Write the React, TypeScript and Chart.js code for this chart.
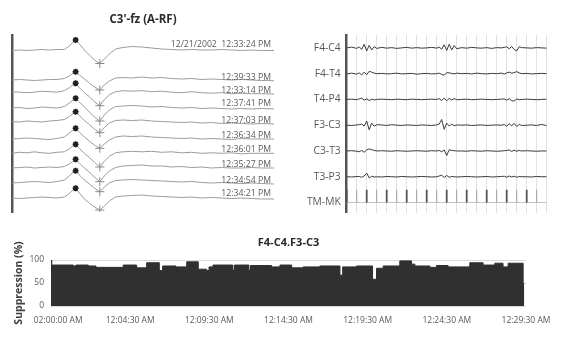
import React, { useEffect, useRef } from "react";
import { Chart, registerables } from "chart.js";

Chart.register(...registerables);

const FONT = "'Open Sans', 'Noto Sans', sans-serif";
const TEXT = "#595959";
Chart.defaults.font.family = FONT;
Chart.defaults.color = TEXT;

// ---------------- Panel A : averaged / single evoked traces ----------------
const ERP_TITLE = "C3'-fz (A-RF)";
const ERP_T = [0, 30, 60, 90, 120, 150, 180, 210, 230, 245, 255, 270, 290, 310, 330, 352, 370, 390, 415, 445, 480, 520, 560, 600, 640, 680, 720, 760, 800, 840, 880, 920, 960, 1000, 1050];
const ERP_LABELS = ["12/21/2002  12:33:24 PM", "12:39:33 PM", "12:33:14 PM", "12:37:41 PM", "12:37:03 PM", "12:36:34 PM", "12:36:01 PM", "12:35:27 PM", "12:34:54 PM", "12:34:21 PM"];
const ERP_OFFSETS = [0, 30, 41.7, 58, 71.5, 89, 103.3, 118, 133, 148];
const ERP_AVG = [-0.5, 0, -0.5, 0, 0.5, 0, 0.5, 0.5, 4, 8, 10, 6, 0, -5, -10, -13.5, -9, -4, 1, 2.5, 3.5, 3, 2, 1, 0.5, 0, 0.5, 0, 0, 0.5, 0, -0.5, 0, -0.5, -0.5];
const ERP_1 = [0, 0.5, 0, -0.5, 0, 0.5, 0.5, 1.5, 4, 7, 8.3, 5, 1, -3, -7, -10, -5, -1, 2, 2.5, 2, 3, 2, 2.5, 1.5, 1, 1.5, 0.5, 1, 0.5, 0, 0.5, 0, -0.5, -0.7];
const ERP_2 = [0, -0.5, -1, -0.5, 0.5, 0, -0.5, 1, 4, 7, 8.4, 4, -1, -5, -10, -14, -8, -3, 0, 1, 0.5, 1, 0, 0.5, -0.5, -1, 0, -1, -1.5, -1, -2, -1.5, -2, -2, -2.3];
const ERP_3 = [0, 0.5, -0.5, 0, 1, 0.5, 0, 1.5, 5, 8, 9.7, 6, 1, -4, -9, -13, -7, -2, 1.5, 2, 2.5, 2, 1, 1.5, 0.5, 0, 0.5, -0.5, 0, -0.5, -1, -0.5, -1, -0.5, -1];
const ERP_4 = [0, -0.5, 0.5, 0, -0.5, 0.5, 1, 2, 5, 8, 9.8, 6, 1, -3, -7.5, -11.2, -6, -1.5, 1, 1.5, 1, 1.5, 0.5, 0, -0.5, -1, -0.5, -1.5, -1, -2, -1.5, -2, -2.5, -2, -2.5];
const ERP_5 = [0, 0.5, 1, 0.5, 0, -0.5, 0.5, 2, 6, 9, 10.7, 7, 2, -2, -6, -9.3, -5, -1, 2, 3, 2.5, 3, 2, 1.5, 1, 0.5, 1, 0, 0.5, 0, -0.5, 0.5, 0, 0, 0];
const ERP_6 = [0, 1, 0.5, 1.5, 0.5, 0, 1, 1.5, 4.5, 7.5, 9, 5, 0, -4, -9, -13.7, -8, -3, 0.5, 1.5, 2, 1.5, 2, 1, 1.5, 0.5, 1, 0, 0.5, 0, 0.5, -0.5, 0, 0, 0];
const ERP_7 = [0, 0.5, 1, 0, 0.5, 1, 0.5, 1.5, 4, 7, 8.7, 5, 0, -4, -9, -13.7, -8, -3, 0.5, 2, 2.5, 3, 2, 2, 1, 1.5, 0.5, 1, 0, 0.5, 0, 0, 0.5, 0, 0];
const ERP_8 = [0, 0.5, 1, 1.5, 1, 0.5, 1.5, 3, 7, 11, 12.3, 8, 3, -1, -5, -8.7, -4, 0, 2.5, 3, 3.5, 3, 2.5, 2, 1.5, 1, 1.5, 0.5, 0, 0.5, 0, -0.5, 0, -0.5, -1];
const ERP_9 = [0, -0.5, 0, 0.5, 1, 0.5, 0, 1, 4.5, 8, 9.7, 5, -1, -5, -9, -12, -8, -3, 1, 2, 2.5, 3, 2, 1.5, 1, 0.5, 1, 0, 0.5, 0, -0.5, 0, -0.5, -1, -1];
const ERP_TRACES = [ERP_AVG, ERP_1, ERP_2, ERP_3, ERP_4, ERP_5, ERP_6, ERP_7, ERP_8, ERP_9];
const ERP_PEAK_IDX = 10;
const ERP_TROUGH_IDX = 15;
const ERP_LABEL_LIFT = [4, 1, 1, 3, 1, 1, 1, 1, 1, 3];

// ---------------- Panel B : raw EEG channels ----------------
const CH_LABELS = ["F4-C4", "F4-T4", "T4-P4", "F3-C3", "C3-T3", "T3-P3", "TM-MK"];
const EEG_X = [0, 0.5, 1, 1.25, 1.5, 1.75, 2, 2.25, 2.5, 2.75, 3, 3.5, 4, 4.5, 5, 5.5, 6, 6.5, 7, 7.5, 8, 8.5, 9, 9.25, 9.5, 9.75, 10, 10.25, 10.5, 10.75, 11, 11.5, 12, 12.5, 13, 13.5, 14, 14.5, 15, 15.5, 15.75, 16, 16.25, 16.5, 16.75, 17, 17.25, 17.5, 18, 18.5, 19, 19.5, 20];
const F4_C4 = [0, 3, -2, 4, -6, 14, -12, 10, -8, 5, -2, 2, -1, 1, -2, 0, 2, -1, 1, -1, 0, 2, -1, 3, -5, 12, -10, 14, -8, 9, -3, 1, -1, 2, 0, -1, 1, -2, 1, 0, 2, 4, -3, 5, -6, -12, 4, 1, 0, -1, 1, 0, -1];
const F4_T4 = [-1, 2, -2, 3, -5, 6, -4, 9, 6, 2, 0, 1, -1, 0, 2, -1, 0, 1, -2, 0, 1, -1, 0, 2, -3, -6, 4, 3, 1, -1, 2, 0, 1, -1, 2, 0, -1, 1, 0, 2, -2, 3, 6, 2, 4, 8, 3, 0, 1, -1, 0, 1, 0];
const T4_P4 = [0, 1, -1, 2, 5, -3, 2, -4, 1, -2, 0, 1, 0, -1, 1, 0, -1, 1, 0, -1, 0, 1, 0, 3, -4, 5, -5, 4, -2, 3, -1, 0, 1, -1, 0, 1, 0, -1, 0, 1, 2, -3, 3, -5, -6, 2, -1, 0, 1, 0, -1, 0, 1];
const F3_C3 = [0, -1, 1, 2, 4, -3, 16, -18, 8, -4, 2, 1, -1, 2, 0, -1, 1, 0, -1, 1, 0, -1, 1, 4, 22, -16, 8, -3, 4, -2, 1, 0, 1, -1, 0, 1, -1, 0, 1, 0, 3, -4, 6, -2, 7, -5, 3, -1, 0, 1, -1, 3, -2];
const C3_T3 = [0, 1, -1, -3, 2, -5, 4, 8, 5, 2, 0, 1, 0, -1, 1, 0, -1, 0, 1, 0, -1, 1, 0, 2, -3, 4, -18, 5, 2, 1, 0, 0, -1, 1, 0, -1, 1, 0, -1, 0, 1, 2, 4, -2, 3, -1, 2, 0, 1, 0, -1, 0, 0];
const T3_P3 = [0, -1, 1, 1, -2, 3, 14, -5, 2, -1, 0, -1, 1, 0, -1, 1, 0, -1, 0, 1, 0, -1, 0, 3, 6, -3, 5, -2, 1, 0, -1, 0, 1, 0, -1, 0, 1, -1, 0, 1, 2, -2, 3, -1, 2, -2, 1, 0, 0, -1, 1, 0, 0];
const EEG_CHANNELS = [F4_C4, F4_T4, T4_P4, F3_C3, C3_T3, T3_P3];
const EEG_UV_PER_ROW = 100;
const TM_MARK_T = [0, 1, 2, 3, 4, 5, 6, 7, 8, 9, 10, 11, 12, 13, 14, 15, 16, 17, 18, 19];
const TM_MARK_STRONG = [1, 0, 1, 0, 1, 0, 1, 0, 1, 0, 1, 0, 1, 0, 1, 0, 1, 0, 1, 0];
const TM_MARK_HEIGHT = 0.5;

// ---------------- Panel C : suppression ----------------
const SUPP_TITLE = "F4-C4.F3-C3";
const SUPP_T = [0, 0.05, 1.41, 1.58, 2.36, 2.84, 4.56, 5.41, 6.04, 6.84, 7.05, 7.89, 8.57, 9.3, 9.83, 9.98, 10.23, 11.49, 11.59, 12.5, 12.6, 13.93, 14.46, 15.2, 15.93, 16.98, 18.25, 18.42, 19.3, 20.31, 20.56, 20.98, 22.03, 22.77, 22.98, 23.93, 24.35, 25.08, 26.45, 27.29, 28.03, 28.55, 28.87, 29.82, 29.89];
const SUPP_V = [100, 89, 87, 89, 87, 84, 89, 83, 94, 77, 87, 85, 96, 80, 77, 85, 89, 78, 89, 78, 88, 85, 89, 83, 85, 87, 67, 85, 87, 58, 82, 87, 98, 91, 87, 84, 88, 85, 94, 89, 93, 85, 93, 49, 49];
const SUPP_TICK_POS = [0.45, 5, 10, 15, 20, 25, 30];
const SUPP_TICK_LABELS = ["02:00:00 AM", "12:04:30 AM", "12:09:30 AM", "12:14:30 AM", "12:19:30 AM", "12:24:30 AM", "12:29:30 AM"];

const noPlugins = { legend: { display: false }, tooltip: { enabled: false } };

// title centred over the plotting area
function areaTitle(text: string, y: number, size: number) {
  return {
    id: "areaTitle",
    afterDraw(chart: any) {
      const { ctx, chartArea } = chart;
      ctx.save();
      ctx.font = `bold ${size}px ${FONT}`;
      ctx.fillStyle = "#2b2b2b";
      ctx.textAlign = "center";
      ctx.textBaseline = "middle";
      ctx.fillText(text, (chartArea.left + chartArea.right) / 2, y);
      ctx.restore();
    },
  };
}

function erpConfig(): any {
  const traces = ERP_TRACES.map((tr, i) => ({
    type: "line",
    data: ERP_T.map((t, j) => ({ x: t, y: tr[j] - ERP_OFFSETS[i] })),
    borderColor: "#9b9b9b",
    borderWidth: 1,
    pointRadius: 0,
    tension: 0,
    order: 2,
  }));
  const peaks = {
    type: "line",
    showLine: false,
    data: ERP_TRACES.map((tr, i) => ({ x: ERP_T[ERP_PEAK_IDX], y: tr[ERP_PEAK_IDX] - ERP_OFFSETS[i] })),
    pointStyle: "star",
    pointRadius: 3,
    borderColor: "#1e1e1e",
    backgroundColor: "#1e1e1e",
    borderWidth: 1.6,
    order: 0,
  };
  const troughs = {
    type: "line",
    showLine: false,
    data: ERP_TRACES.map((tr, i) => ({ x: ERP_T[ERP_TROUGH_IDX], y: tr[ERP_TROUGH_IDX] - ERP_OFFSETS[i] })),
    pointStyle: "cross",
    pointRadius: 4.5,
    borderColor: "#8a8a8a",
    borderWidth: 1,
    order: 1,
  };
  const labelPlugin = {
    id: "erpLabels",
    afterDatasetsDraw(chart: any) {
      const { ctx, chartArea, scales } = chart;
      ctx.save();
      ctx.font = `8.7px ${FONT}`;
      ctx.fillStyle = TEXT;
      ctx.textAlign = "right";
      ctx.textBaseline = "alphabetic";
      ERP_TRACES.forEach((tr, i) => {
        const y = scales.y.getPixelForValue(tr[tr.length - 1] - ERP_OFFSETS[i]) - ERP_LABEL_LIFT[i];
        ctx.fillText(ERP_LABELS[i], chartArea.right - 3, y);
      });
      ctx.restore();
    },
  };
  return {
    type: "line",
    data: { datasets: [peaks, troughs, ...traces] },
    plugins: [labelPlugin, areaTitle(ERP_TITLE, 20, 11.5)],
    options: {
      animation: false,
      responsive: false,
      devicePixelRatio: 1,
      layout: { padding: { left: 0, right: 16, top: 35, bottom: 13 } },
      plugins: noPlugins,
      scales: {
        x: { type: "linear", min: 0, max: 1050, display: false },
        y: {
          type: "linear",
          min: -162,
          max: 15,
          ticks: { display: false },
          grid: { display: false, drawTicks: false },
          border: { display: true, color: "#555", width: 2.5 },
          afterFit: (s: any) => { s.width = 12; },
        },
      },
    },
  };
}

function eegConfig(): any {
  const channels = EEG_CHANNELS.map((ch, i) => ({
    type: "line",
    data: EEG_X.map((x, j) => ({ x, y: i - ch[j] / EEG_UV_PER_ROW })),
    borderColor: "#3a3a3a",
    borderWidth: 1,
    pointRadius: 0,
    tension: 0,
  }));
  const tmRow = CH_LABELS.length - 1;
  const marks = (strong: number) => {
    const pts: any[] = [];
    TM_MARK_T.forEach((t, k) => {
      if (TM_MARK_STRONG[k] === strong) {
        pts.push({ x: t, y: tmRow }, { x: t, y: tmRow - TM_MARK_HEIGHT }, { x: t, y: null });
      }
    });
    return pts;
  };
  const baseline = {
    type: "line",
    data: [{ x: EEG_X[0], y: tmRow }, { x: EEG_X[EEG_X.length - 1], y: tmRow }],
    borderColor: "#c4c4c4",
    borderWidth: 1,
    pointRadius: 0,
  };
  const light = { type: "line", data: marks(0), borderColor: "#9d9d9d", borderWidth: 1, pointRadius: 0, spanGaps: false };
  const dark = { type: "line", data: marks(1), borderColor: "#555", borderWidth: 1.8, pointRadius: 0, spanGaps: false };
  return {
    type: "line",
    data: { datasets: [...channels, dark, light, baseline] },
    options: {
      animation: false,
      responsive: false,
      devicePixelRatio: 1,
      layout: { padding: { left: 0, right: 19.3, top: 15, bottom: 12 } },
      plugins: noPlugins,
      scales: {
        x: {
          type: "linear",
          min: 0,
          max: 20,
          ticks: { display: false, stepSize: 1 },
          grid: { display: true, color: "#e2e2e2", lineWidth: 1, drawTicks: false },
          border: { display: false },
          afterFit: (s: any) => { s.height = 0; },
        },
        y: {
          type: "linear",
          reverse: true,
          min: -0.5,
          max: 6.4,
          afterBuildTicks: (s: any) => { s.ticks = CH_LABELS.map((_, i) => ({ value: i })); },
          ticks: {
            callback: (v: any) => CH_LABELS[v],
            font: { family: FONT, size: 10.3 },
            color: TEXT,
            padding: 6,
            autoSkip: false,
          },
          grid: { display: false, drawTicks: false },
          border: { display: true, color: "#555", width: 2.5 },
          afterFit: (s: any) => { s.width = 56.7; },
        },
      },
    },
  };
}

function suppConfig(): any {
  const data = SUPP_T.map((t, i) => ({ x: t, y: SUPP_V[i] }));
  return {
    type: "line",
    data: {
      datasets: [{
        data,
        stepped: true,
        fill: "origin",
        backgroundColor: "#303030",
        borderColor: "#303030",
        borderWidth: 1,
        pointRadius: 0,
      }],
    },
    plugins: [areaTitle(SUPP_TITLE, 15, 11)],
    options: {
      animation: false,
      responsive: false,
      devicePixelRatio: 1,
      layout: { padding: { left: 0, right: 40, top: 32, bottom: 0 } },
      plugins: noPlugins,
      scales: {
        x: {
          type: "linear",
          min: 0,
          max: 30,
          afterBuildTicks: (s: any) => { s.ticks = SUPP_TICK_POS.map((v) => ({ value: v })); },
          ticks: {
            callback: (_v: any, i: number) => SUPP_TICK_LABELS[i],
            font: { family: FONT, size: 8.5 },
            color: TEXT,
            padding: 9,
            autoSkip: false,
            maxRotation: 0,
          },
          grid: { display: false, drawTicks: false },
          border: { display: false },
          afterFit: (s: any) => { s.height = 33; },
        },
        y: {
          type: "linear",
          min: 0,
          max: 100,
          ticks: { stepSize: 50, font: { family: FONT, size: 8.5 }, color: TEXT, padding: 7 },
          grid: { display: true, color: "#dadada", drawTicks: false },
          border: { display: false },
          title: {
            display: true,
            text: "Suppression (%)",
            color: "#404040",
            font: { family: FONT, size: 10.5, weight: "bold", lineHeight: 1.2 },
            padding: { top: 13, bottom: 0 },
          },
          afterFit: (s: any) => { s.width = 51; },
        },
      },
    },
  };
}

function Panel({ left, top, width, height, build }: any) {
  const ref = useRef<HTMLCanvasElement>(null);
  useEffect(() => {
    const chart = new Chart(ref.current as HTMLCanvasElement, build());
    return () => chart.destroy();
  }, []);
  return (
    <canvas
      ref={ref}
      width={width}
      height={height}
      style={{ position: "absolute", left, top, width, height }}
    />
  );
}

export default function App() {
  return (
    <div style={{ position: "absolute", left: 0, top: 0, width: 566, height: 339, background: "#fff", overflow: "hidden" }}>
      <Panel left={0} top={0} width={290} height={225} build={erpConfig} />
      <Panel left={290} top={20} width={276} height={205} build={eegConfig} />
      <Panel left={0} top={228} width={566} height={111} build={suppConfig} />
    </div>
  );
}
